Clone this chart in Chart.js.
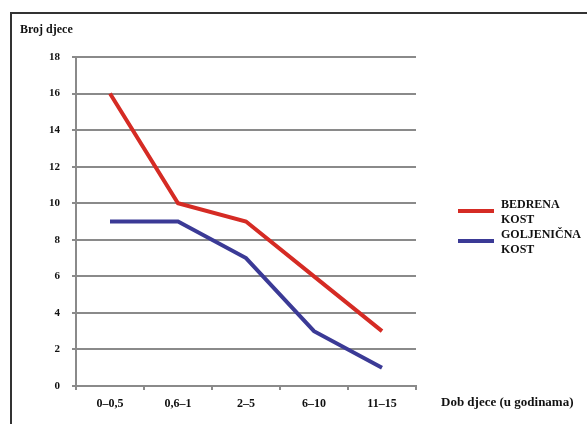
<!DOCTYPE html>
<html>
<head>
<meta charset="utf-8">
<script src="https://cdn.jsdelivr.net/npm/chart.js@4/dist/chart.umd.min.js"></script>
<style>
  html, body { margin: 0; padding: 0; background: #fff; }
  #wrap { position: relative; width: 587px; height: 424px; }
  #frame { position: absolute; left: 10px; top: 12px; right: 0; bottom: 0;
           border-left: 2px solid #333; border-top: 2px solid #333; }
  canvas { position: absolute; left: 0; top: 0; }
</style>
</head>
<body>
<div id="wrap">
  <div id="frame"></div>
  <canvas id="myChart"></canvas>
</div>
<script>
// podaci
const kategorije = ['0–0,5', '0,6–1', '2–5', '6–10', '11–15'];
const bedrenaKost = [16, 10, 9, 6, 3];
const goljenicnaKost = [9, 9, 7, 3, 1];
const nazivi = [['BEDRENA', 'KOST'], ['GOLJENIČNA', 'KOST']];
const yTicks = [0, 2, 4, 6, 8, 10, 12, 14, 16, 18];

const serif = '"Liberation Serif", "DejaVu Serif", serif';
const siva = '#8a8a8a';

// tekstovi osi i legenda
const dodaci = {
  id: 'dodaci',
  afterDraw(chart) {
    const ctx = chart.ctx;
    const area = chart.chartArea;
    ctx.save();
    ctx.fillStyle = '#111';
    ctx.textBaseline = 'middle';
    ctx.textAlign = 'left';
    ctx.font = 'bold 12px ' + serif;
    ctx.fillText('Broj djece', 20, 30);
    ctx.font = 'bold 13px ' + serif;
    ctx.fillText('Dob djece (u godinama)', 441, 403);

    // legenda
    ctx.font = 'bold 12px ' + serif;
    chart.data.datasets.forEach((ds, i) => {
      const y = 211 + i * 30;
      ctx.strokeStyle = ds.borderColor;
      ctx.lineWidth = 4;
      ctx.beginPath();
      ctx.moveTo(area.right + 42, y);
      ctx.lineTo(area.right + 78, y);
      ctx.stroke();
      ctx.fillStyle = '#111';
      nazivi[i].forEach((t, j) => {
        ctx.fillText(t, area.right + 85, y - 6 + j * 15);
      });
    });
    ctx.restore();
  }
};

const data = {
  labels: kategorije,
  datasets: [{
    label: nazivi[0].join(' '),
    data: bedrenaKost,
    borderColor: '#d52b24',
    borderWidth: 4,
    pointRadius: 0,
    tension: 0,
    fill: false
  }, {
    label: nazivi[1].join(' '),
    data: goljenicnaKost,
    borderColor: '#3b3a96',
    borderWidth: 4,
    pointRadius: 0,
    tension: 0,
    fill: false
  }]
};

const configData = {
  type: 'line',
  data: data,
  options: {
    responsive: true,
    maintainAspectRatio: false,
    animation: false,
    layout: {
      padding: { left: 10, top: 57, right: 171, bottom: 8 }
    },
    plugins: {
      legend: { display: false },
      tooltip: { enabled: false }
    },
    scales: {
      x: {
        offset: true,
        afterFit: (s) => { s.height = 30; },
        ticks: { color: '#111', padding: 7, maxRotation: 0,
                 font: { family: serif, size: 12, weight: 'bold' } },
        grid: { drawOnChartArea: false, drawTicks: true, tickLength: 4,
                offset: true, color: siva, lineWidth: 2 },
        border: { color: siva, width: 2 }
      },
      y: {
        min: 0,
        max: 18,
        afterFit: (s) => { s.width = 66; },
        afterBuildTicks: (s) => { s.ticks = yTicks.map(v => ({ value: v })); },
        ticks: { color: '#111', padding: 12,
                 font: { family: serif, size: 11, weight: 'bold' } },
        grid: { color: siva, lineWidth: 2, tickLength: 4 },
        border: { color: siva, width: 2 }
      }
    }
  },
  plugins: [dodaci]
};

new Chart(document.getElementById('myChart'), configData);
</script>
</body>
</html>
